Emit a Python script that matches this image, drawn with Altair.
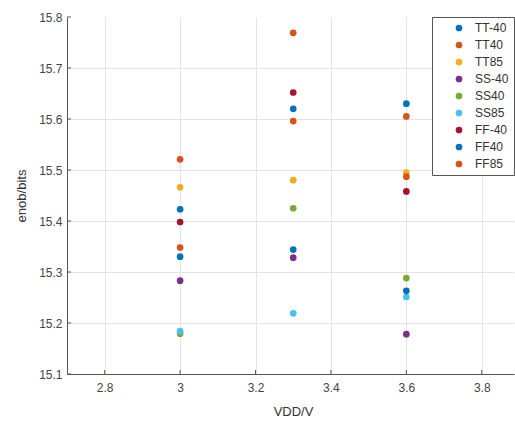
import altair as alt
import pandas as pd

names = ["TT-40", "TT40", "TT85", "SS-40", "SS40", "SS85", "FF-40", "FF40", "FF85"]
colors = ["#0072BD", "#D95319", "#EDB120", "#7E2F8E", "#77AC30",
          "#4DBEEE", "#A2142F", "#0072BD", "#D95319"]
vdd = [3.0, 3.3, 3.6]

tt_m40 = [15.423, 15.620, 15.630]
tt_40 = [15.521, 15.769, 15.605]
tt_85 = [15.466, 15.480, 15.495]
ss_m40 = [15.283, 15.328, 15.178]
ss_40 = [15.179, 15.425, 15.288]
ss_85 = [15.184, 15.219, 15.251]
ff_m40 = [15.398, 15.652, 15.458]
ff_40 = [15.330, 15.344, 15.263]
ff_85 = [15.348, 15.596, 15.487]

series = [tt_m40, tt_40, tt_85, ss_m40, ss_40, ss_85, ff_m40, ff_40, ff_85]

x_ticks = [2.8, 3.0, 3.2, 3.4, 3.6, 3.8]
y_ticks = [15.1, 15.2, 15.3, 15.4, 15.5, 15.6, 15.7, 15.8]

rows = []
for name, vals in zip(names, series):
    for x, v in zip(vdd, vals):
        rows.append({"VDD": x, "enob": v, "corner": name})
df = pd.DataFrame(rows)

FONT = "Liberation Sans"

points = alt.Chart(df).mark_circle(size=45, opacity=1).encode(
    x=alt.X("VDD:Q",
            scale=alt.Scale(domain=[2.7, 3.8855], nice=False, zero=False),
            axis=alt.Axis(values=x_ticks, format="~g", title="VDD/V",
                          grid=True, gridColor="#e3e3e3", domainColor="#555555",
                          gridOpacity=alt.expr("datum.value > 3.85 ? 0 : 1"),
                          ticks=False, labelPadding=8, labelFontSize=12,
                          labelColor="#444444", titleFontSize=13,
                          titleFontWeight="normal", titleColor="#333333",
                          titlePadding=12, titleX=226, titleAlign="center",
                          labelFont=FONT, titleFont=FONT)),
    y=alt.Y("enob:Q",
            scale=alt.Scale(domain=[15.1, 15.8], nice=False, zero=False),
            axis=alt.Axis(values=y_ticks, format=".1f", title="enob/bits",
                          grid=True, gridColor="#e3e3e3", domainColor="#555555",
                          gridOpacity=alt.expr("datum.value > 15.75 ? 0 : 1"),
                          ticks=False, labelPadding=5, labelFontSize=12,
                          labelColor="#444444", titleFontSize=13,
                          titleFontWeight="normal", titleColor="#333333",
                          titlePadding=10, labelFont=FONT, titleFont=FONT)),
    color=alt.Color("corner:N",
                    scale=alt.Scale(domain=names, range=colors),
                    sort=names,
                    legend=alt.Legend(title=None, orient="none",
                                      legendX=365, legendY=0,
                                      strokeColor="#555555", fillColor="white",
                                      padding=5, symbolOffset=16,
                                      symbolType="circle", symbolSize=45,
                                      symbolStrokeWidth=0,
                                      labelFontSize=12, labelFont=FONT,
                                      labelColor="#333333", labelOffset=10,
                                      rowPadding=5, labelLimit=200)),
)

ticks_x = alt.Chart(pd.DataFrame({"t": x_ticks})).mark_rule(color="#555555").encode(
    x="t:Q", y=alt.value(357), y2=alt.value(353))
ticks_y = alt.Chart(pd.DataFrame({"t": y_ticks})).mark_rule(color="#555555").encode(
    y="t:Q", x=alt.value(0), x2=alt.value(4))

chart = alt.layer(ticks_x, ticks_y, points).properties(
    width=447, height=357,
    autosize=alt.AutoSizeParams(type="none"),
    padding={"left": 67, "top": 17, "right": 1, "bottom": 47},
    background="white",
).configure_view(stroke="transparent", strokeWidth=0)

chart.save("out.html", embed_options={"renderer": "svg", "actions": False})
